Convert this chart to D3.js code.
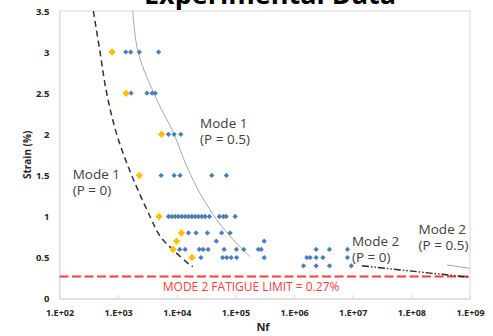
<!DOCTYPE html>
<html>
<head>
<meta charset="utf-8">
<script src="https://cdn.jsdelivr.net/npm/d3@7"></script>
<style>
  body { margin: 0; background: #fff; }
  text { font-family: 'Open Sans', sans-serif; }
</style>
</head>
<body>
<script>
// cycles to failure (Nf) and strain (%)
const blueCycles = [
  1350, 1640, 2300, 4900,
  1660, 3100, 3800, 4300,
  7200, 9000, 11700,
  5400, 9000, 11400, 39500, 70000,
  7200, 8200, 9350, 10650, 12170, 13860, 15780, 18030, 20510, 23380, 26720, 30410, 36000, 53300, 62400, 69300, 98800,
  15800, 21350, 33300, 58200, 81200,
  47200, 309000,
  11200, 13860, 24200, 28100, 34200, 64100, 104000, 138700, 245000, 275000,
  25800, 60500, 71100, 84500, 104800, 309000,
  1.45e6, 2.38e6, 4.02e6, 9.44e6,
  1.65e6, 1.88e6, 2.38e6, 3.1e6, 8.15e6,
  2.38e6, 4.02e6, 8.15e6
];
const blueStrain = [
  3, 3, 3, 3,
  2.5, 2.5, 2.5, 2.5,
  2, 2, 2,
  1.5, 1.5, 1.5, 1.5, 1.5,
  1, 1, 1, 1, 1, 1, 1, 1, 1, 1, 1, 1, 1, 1, 1, 1, 1,
  0.8, 0.8, 0.8, 0.8, 0.8,
  0.7, 0.7,
  0.6, 0.6, 0.6, 0.6, 0.6, 0.6, 0.6, 0.6, 0.6, 0.6,
  0.5, 0.5, 0.5, 0.5, 0.5, 0.5,
  0.4, 0.4, 0.4, 0.4,
  0.5, 0.5, 0.5, 0.5, 0.5,
  0.6, 0.6, 0.6
];

const yellowCycles = [790, 1365, 5500, 2300, 5000, 12000, 9900, 8650, 18200];
const yellowStrain = [3, 2.5, 2, 1.5, 1, 0.8, 0.7, 0.6, 0.5];

// fitted curves, points
const mode1P0Cycles = [378, 491, 638, 946, 1706, 3500, 5190, 8750, 16900, 18750];
const mode1P0Strain = [3.5, 3.0, 2.5, 2.0, 1.5, 1.0, 0.76, 0.59, 0.41, 0.39];

const mode1P5Cycles = [1775, 2190, 4560, 8750, 14800, 25000, 48200, 92500, 178000];
const mode1P5Strain = [3.5, 3.0, 2.42, 2.02, 1.61, 1.28, 0.96, 0.715, 0.51];

const mode2P0Cycles = [1.44e7, 1e9];
const mode2P0Strain = [0.40, 0.26];

const mode2P5Cycles = [4.05e8, 1e9];
const mode2P5Strain = [0.41, 0.37];

const fatigueLimit = 0.27;

const xTicks = [1e2, 1e3, 1e4, 1e5, 1e6, 1e7, 1e8, 1e9];
const xTickLabels = ['1.E+02', '1.E+03', '1.E+04', '1.E+05', '1.E+06', '1.E+07', '1.E+08', '1.E+09'];
const yTicks = [0, 0.5, 1, 1.5, 2, 2.5, 3, 3.5];

const notes = [
  { lines: ['Mode 1', '(P = 0)'], n: 168, s: 1.455 },
  { lines: ['Mode 1', '(P = 0.5)'], n: 25000, s: 2.077 },
  { lines: ['Mode 2', '(P = 0)'], n: 9.7e6, s: 0.646 },
  { lines: ['Mode 2', '(P = 0.5)'], n: 1.33e8, s: 0.785 }
];

const width = 493;
const height = 336;
const margin = { top: 11, right: 23, bottom: 37.3, left: 59.5 };

const svg = d3.select('body')
  .append('svg')
  .attr('width', width)
  .attr('height', height);

const x = d3.scaleLog()
  .domain([1e2, 1e9])
  .range([margin.left, width - margin.right]);

const y = d3.scaleLinear()
  .domain([0, 3.5])
  .range([height - margin.bottom, margin.top]);

// title, mostly cut off at top like the source
svg.append('text')
  .attr('x', 270)
  .attr('y', 4)
  .attr('text-anchor', 'middle')
  .style('font-size', '27px')
  .style('font-weight', 'bold')
  .attr('fill', '#000')
  .text('Experimental Data');

// plot frame
svg.append('rect')
  .attr('x', margin.left)
  .attr('y', margin.top)
  .attr('width', x.range()[1] - margin.left)
  .attr('height', y.range()[0] - margin.top)
  .attr('fill', 'none')
  .attr('stroke', '#d9d9d9')
  .attr('stroke-width', 1);

// x axis
const xAxis = svg.append('g')
  .attr('transform', `translate(0,${y(0)})`)
  .call(d3.axisBottom(x).tickValues(xTicks).tickSize(0).tickPadding(11)
    .tickFormat((d, i) => xTickLabels[i]));
xAxis.select('.domain').attr('stroke', '#d9d9d9');
xAxis.selectAll('.tick')
  .append('line')
  .attr('y1', 0)
  .attr('y2', -4)
  .attr('stroke', '#d9d9d9');
xAxis.selectAll('text')
  .style('font-size', '9px')
  .style('font-weight', 'bold')
  .style('font-family', "'Open Sans', sans-serif")
  .attr('fill', '#262626');

// y axis
const yAxis = svg.append('g')
  .attr('transform', `translate(${margin.left},0)`)
  .call(d3.axisLeft(y).tickValues(yTicks).tickSize(0).tickPadding(10)
    .tickFormat(d3.format('')));
yAxis.select('.domain').attr('stroke', '#d9d9d9');
yAxis.selectAll('text')
  .style('font-size', '9.5px')
  .style('font-weight', 'bold')
  .style('font-family', "'Open Sans', sans-serif")
  .attr('fill', '#262626');

svg.append('text')
  .attr('transform', `translate(31,${(margin.top + y(0)) / 2}) rotate(-90)`)
  .attr('text-anchor', 'middle')
  .style('font-size', '10px')
  .style('font-weight', 'bold')
  .attr('fill', '#262626')
  .text('Strain (%)');

svg.append('text')
  .attr('x', 263)
  .attr('y', 331)
  .attr('text-anchor', 'middle')
  .style('font-size', '11px')
  .style('font-weight', 'bold')
  .attr('fill', '#262626')
  .text('Nf');

// clip for curves
svg.append('clipPath')
  .attr('id', 'plot-clip')
  .append('rect')
  .attr('x', margin.left)
  .attr('y', margin.top)
  .attr('width', x.range()[1] - margin.left)
  .attr('height', y.range()[0] - margin.top);

const plot = svg.append('g').attr('clip-path', 'url(#plot-clip)');

// fatigue limit
plot.append('line')
  .attr('x1', x(1e2))
  .attr('x2', x(1e9))
  .attr('y1', y(fatigueLimit))
  .attr('y2', y(fatigueLimit))
  .attr('stroke', '#ff3b3b')
  .attr('stroke-width', 1.8)
  .attr('stroke-dasharray', '9,3.5');

svg.append('text')
  .attr('x', x(5770))
  .attr('y', y(0.094))
  .style('font-size', '12px')
  .attr('fill', '#ff3b3b')
  .text('MODE 2 FATIGUE LIMIT = 0.27%');

const line = d3.line()
  .x(d => x(d[0]))
  .y(d => y(d[1]))
  .curve(d3.curveCatmullRom);

const zipped = (a, b) => a.map((d, i) => [d, b[i]]);

plot.append('path')
  .attr('d', line(zipped(mode1P5Cycles, mode1P5Strain)))
  .attr('fill', 'none')
  .attr('stroke', '#a6a6a6')
  .attr('stroke-width', 1);

plot.append('path')
  .attr('d', line(zipped(mode2P5Cycles, mode2P5Strain)))
  .attr('fill', 'none')
  .attr('stroke', '#a6a6a6')
  .attr('stroke-width', 1);

plot.append('path')
  .attr('d', line(zipped(mode2P0Cycles, mode2P0Strain)))
  .attr('fill', 'none')
  .attr('stroke', '#262626')
  .attr('stroke-width', 1.4)
  .attr('stroke-dasharray', '7,2,1.5,2,1.5,2');

// blue points
const blueSym = d3.symbol().type(d3.symbolDiamond2).size(18);
svg.append('g')
  .selectAll('path')
  .data(zipped(blueCycles, blueStrain))
  .join('path')
  .attr('transform', d => `translate(${x(d[0])},${y(d[1])})`)
  .attr('d', blueSym)
  .attr('fill', '#4a7ebb');

plot.append('path')
  .attr('d', line(zipped(mode1P0Cycles, mode1P0Strain)))
  .attr('fill', 'none')
  .attr('stroke', '#333')
  .attr('stroke-width', 1.5)
  .attr('stroke-dasharray', '6,4');

// yellow points
const yellowSym = d3.symbol().type(d3.symbolDiamond2).size(36);
svg.append('g')
  .selectAll('path')
  .data(zipped(yellowCycles, yellowStrain))
  .join('path')
  .attr('transform', d => `translate(${x(d[0])},${y(d[1])})`)
  .attr('d', yellowSym)
  .attr('fill', '#ffc000');

// annotations, one text per line
notes.forEach(n => {
  n.lines.forEach((l, i) => {
    svg.append('text')
      .attr('x', x(n.n))
      .attr('y', y(n.s) + i * 16)
      .style('font-size', '13.5px')
      .attr('fill', '#404040')
      .text(l);
  });
});
</script>
</body>
</html>
